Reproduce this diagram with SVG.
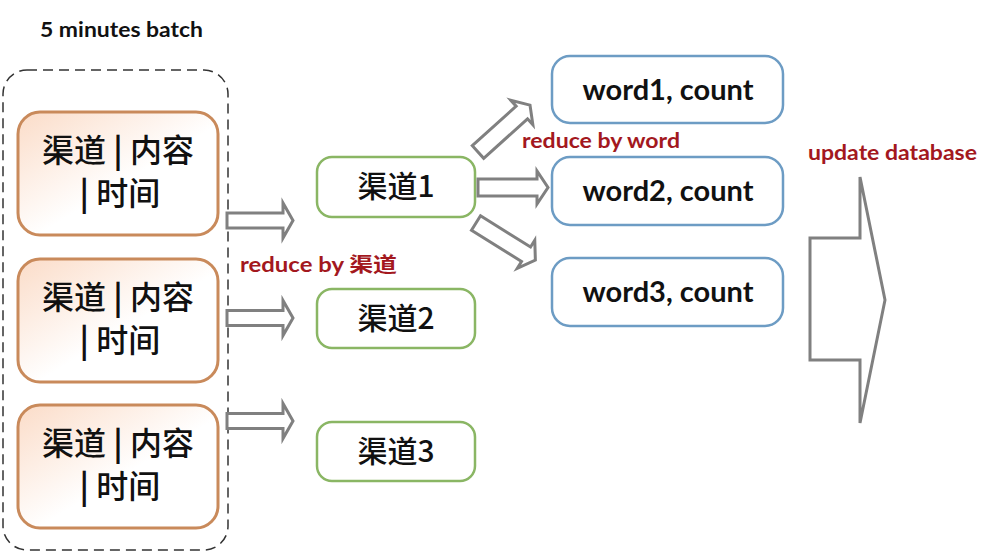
<svg xmlns="http://www.w3.org/2000/svg" width="992" height="560" viewBox="0 0 992 560">
<defs>
<linearGradient id="og" x1="0" y1="0" x2="1" y2="1">
<stop offset="0" stop-color="#fbdcc8"/>
<stop offset="0.55" stop-color="#ffffff"/>
<stop offset="1" stop-color="#ffffff"/>
</linearGradient>
<path id="arrA" d="M0,-7.5 H56 V-17.5 L66,0 L56,17.5 V7.5 H0 Z"/>
<path id="arrB" d="M0,-8.5 H59 V-16.5 L70,0 L59,16.5 V8.5 H0 Z"/>
</defs>
<style>
.orange{fill:url(#og);stroke:#c98a5b;stroke-width:3}
.green{fill:#ffffff;stroke:#8ab664;stroke-width:2.5}
.blue{fill:#ffffff;stroke:#6d9cc4;stroke-width:2.5}
.cjk{font-family:"Noto Sans CJK SC","Noto Sans",sans-serif;font-weight:500;font-size:32px;fill:#111;text-anchor:middle}
.pipe{font-weight:bold}
.gt{font-family:"Noto Sans CJK SC","Noto Sans",sans-serif;font-weight:500;font-size:30px;fill:#111;text-anchor:middle}
.bt{font-family:"Lato","Noto Sans",sans-serif;font-weight:bold;font-size:29px;fill:#111;text-anchor:middle}
.red{font-family:"Lato","Noto Sans CJK SC",sans-serif;font-weight:bold;font-size:20px;fill:#a3181e}
.title{font-family:"Lato","Noto Sans",sans-serif;font-weight:bold;font-size:20px;fill:#111}
.arrow{fill:#ffffff;stroke:#808080;stroke-width:3;stroke-linejoin:miter}
.dash{fill:none;stroke:#333;stroke-width:1.5;stroke-dasharray:10 6}
</style>
<rect width="992" height="560" fill="#ffffff"/>

<g id="batch">
<text class="title" x="40" y="37" textLength="163" lengthAdjust="spacingAndGlyphs">5 minutes batch</text>
<rect class="dash" x="3" y="70" width="225" height="480" rx="24"/>
</g>

<g id="record1">
<rect class="orange" x="18" y="112" width="200" height="123" rx="22"/>
<text class="cjk"><tspan x="118" y="162">渠道<tspan class="pipe"> | </tspan>内容</tspan><tspan x="120" y="205"><tspan class="pipe">| </tspan>时间</tspan></text>
</g>
<g id="record2">
<rect class="orange" x="18" y="259" width="200" height="123" rx="22"/>
<text class="cjk"><tspan x="118" y="309">渠道<tspan class="pipe"> | </tspan>内容</tspan><tspan x="120" y="352"><tspan class="pipe">| </tspan>时间</tspan></text>
</g>
<g id="record3">
<rect class="orange" x="18" y="405" width="200" height="123" rx="22"/>
<text class="cjk"><tspan x="118" y="455">渠道<tspan class="pipe"> | </tspan>内容</tspan><tspan x="120" y="498"><tspan class="pipe">| </tspan>时间</tspan></text>
</g>

<g id="channel1">
<rect class="green" x="317" y="157" width="158" height="60" rx="15"/>
<text class="gt" x="396" y="197">渠道1</text>
</g>
<g id="channel2">
<rect class="green" x="317" y="289" width="158" height="59" rx="15"/>
<text class="gt" x="396" y="329">渠道2</text>
</g>
<g id="channel3">
<rect class="green" x="317" y="422" width="158" height="59" rx="15"/>
<text class="gt" x="396" y="462">渠道3</text>
</g>

<g id="word1">
<rect class="blue" x="552" y="56" width="231" height="67" rx="18"/>
<text class="bt" x="668" y="100">word1, count</text>
</g>
<g id="word2">
<rect class="blue" x="552" y="157" width="231" height="68" rx="18"/>
<text class="bt" x="668" y="201">word2, count</text>
</g>
<g id="word3">
<rect class="blue" x="552" y="258" width="231" height="68" rx="18"/>
<text class="bt" x="668" y="302">word3, count</text>
</g>

<g id="connectors">
<use href="#arrA" class="arrow" transform="translate(227,220.5)"/>
<use href="#arrA" class="arrow" transform="translate(227,318)"/>
<use href="#arrA" class="arrow" transform="translate(227,421)"/>
<use href="#arrB" class="arrow" transform="translate(478,187.5)"/>
<use href="#arrB" class="arrow" transform="translate(478,152) rotate(-42)"/>
<use href="#arrB" class="arrow" transform="translate(476,223) rotate(32)"/>
<polygon class="arrow" points="810,238 860,238 860,177 885,300 860,423 860,360 810,360"/>
<text class="red" x="240" y="272" textLength="157" lengthAdjust="spacingAndGlyphs">reduce by 渠道</text>
<text class="red" x="522" y="148" textLength="158" lengthAdjust="spacingAndGlyphs">reduce by word</text>
<text class="red" x="808" y="160" textLength="169" lengthAdjust="spacingAndGlyphs">update database</text>
</g>
</svg>
